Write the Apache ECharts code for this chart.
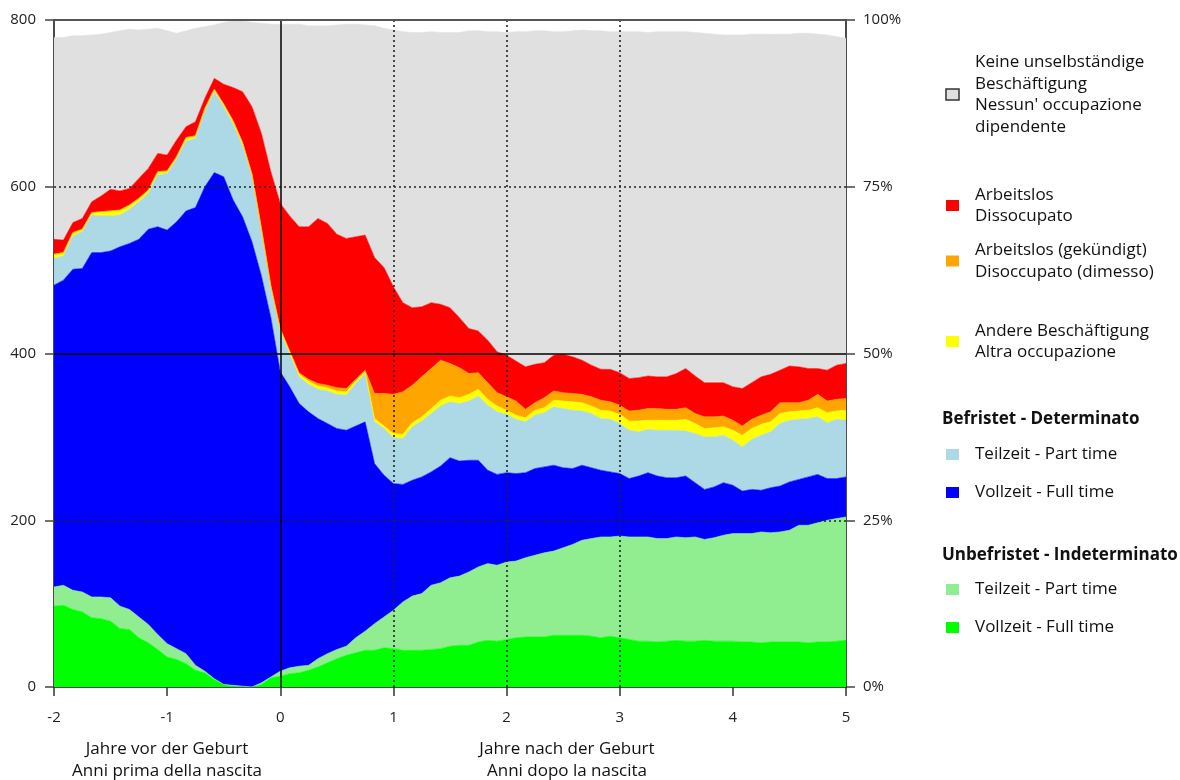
<!DOCTYPE html>
<html>
<head>
<meta charset="utf-8">
<script src="https://cdn.jsdelivr.net/npm/echarts@6/dist/echarts.min.js"></script>
<style>
  html, body { margin: 0; padding: 0; background: #ffffff; }
  #chart { width: 1180px; height: 780px; }
</style>
</head>
<body>
<div id="chart"></div>
<script>
// Months relative to the birth (-24 = two years before, 60 = five years after)
const months = [
  -24,-23,-22,-21,-20,-19,-18,-17,-16,-15,-14,-13,-12,-11,-10,-9,-8,-7,-6,-5,-4,-3,-2,-1,
  0,1,2,3,4,5,6,7,8,9,10,11,12,13,14,15,16,17,18,19,20,21,22,23,24,25,26,27,28,29,30,
  31,32,33,34,35,36,37,38,39,40,41,42,43,44,45,46,47,48,49,50,51,52,53,54,55,56,57,58,59,60
];

// Unbefristet - Vollzeit (permanent, full time)
const unbefristetVollzeit = [
  97,98,93,90,83,82,79,70,69,59,53,45,36,33,28,20,17,9,3,1,0.5,0,3,11,
  13,16,17,20,24,29,34,38,41,44,44,47,46,44,44,44,45,46,49,50,
  50,54,56,55,57,59,60,60,60,62,62,62,62,61,59,61,59,57,55,55,
  54,55,56,55,55,56,55,55,55,54,54,53,54,54,54,54,53,54,54,55,56
];
// Unbefristet - Teilzeit (permanent, part time)
const unbefristetTeilzeit = [
  23,24,23,24,25,26,28,27,24,25,22,18,16,13,12,6,2,1,0,1,0.5,0,2,1,
  6,7,8,6,10,11,11,11,18,23,32,37,46,58,65,68,77,79,82,83,
  88,90,92,91,93,92,95,98,101,101,105,109,114,117,121,119,122,123,125,125,
  124,123,124,124,125,121,124,127,129,130,130,133,131,132,134,140,141,143,146,147,148
];
// Befristet - Vollzeit (fixed-term, full time)
const befristetVollzeit = [
  362,366,385,388,413,413,416,431,439,453,474,489,496,512,531,549,581,607,609,582,563,534,488,431,
  359,337,315,304,288,276,265,259,254,251,192,170,152,141,139,140,136,140,144,138,
  134,128,112,109,107,105,102,104,103,103,96,91,90,85,80,78,75,70,73,77,
  75,73,71,74,65,60,61,63,58,51,53,50,54,55,58,55,58,58,50,48,48
];
// Befristet - Teilzeit (fixed-term, part time)
const befristetTeilzeit = [
  32,29,40,44,45,44,42,38,41,45,43,62,68,75,84,83,90,97,84,91,85,78,53,35,
  48,39,32,33,35,39,41,42,51,58,50,56,55,55,64,67,70,72,67,69,
  71,77,78,75,70,65,61,64,65,70,71,70,65,65,62,63,60,58,53,52,
  55,57,57,54,59,63,60,57,54,53,60,66,67,75,74,72,70,69,67,71,68
];
// Andere Beschäftigung (other employment)
const andereBeschaeftigung = [
  5,4,4,3,3,5,6,6,5,4,4,4,3,3,4,3,4,3,3,4,4,3,4,3,
  3,3,3,4,4,4,4,4,3,2,4,3,5,5,5,5,6,7,7,7,
  8,8,7,7,5,5,5,6,6,8,9,10,10,9,10,10,11,11,13,11,
  12,12,12,14,12,10,11,10,12,14,13,13,12,12,10,10,10,11,12,10,12
];
// Arbeitslos (gekündigt) (unemployed after dismissal)
const arbeitslosGekuendigt = [
  0,0,0,0,0,0,0,0,0,0,0,0,0,0,0,0,0,0,0,0,0,0,0,0,
  1,1,2,2,3,3,4,4,2,2,30,39,47,51,45,48,48,48,39,36,
  25,20,20,16,16,17,10,9,12,11,10,10,10,11,12,11,11,12,13,14,
  14,13,13,14,12,14,13,13,12,11,11,11,12,13,11,10,12,16,14,14,14
];
// Arbeitslos (unemployed)
const arbeitslos = [
  18,15,12,13,13,19,26,23,20,24,26,22,19,20,13,17,12,13,24,40,61,81,114,137,
  150,162,175,183,198,194,184,180,171,162,163,151,129,107,93,84,79,67,67,60,
  54,50,51,49,50,48,51,46,42,43,46,44,41,38,37,39,39,39,39,39,
  38,39,43,47,45,41,41,40,40,45,44,46,45,39,44,43,38,31,37,41,42
];
// Keine unselbständige Beschäftigung (no dependent employment)
const keineBeschaeftigung = [
  242,243,224,219,200,194,188,192,191,178,167,150,149,128,115,112,86,64,74,80,85,101,132,177,
  215,230,243,241,231,237,251,257,255,252,278,287,308,325,330,329,325,326,330,342,
  357,360,370,384,387,395,402,400,398,388,387,391,396,401,406,405,409,416,415,412,
  414,414,410,404,412,419,418,417,422,424,418,411,408,403,398,400,402,401,402,394,390
];

const leftTicks = [0, 200, 400, 600, 800];
const rightTicks = [0, 25, 50, 75, 100];

const FONT = '"Open Sans", "Noto Sans", sans-serif';

// Stack order from the bottom up
const layers = [
  { name: 'Unbefristet Vollzeit', data: unbefristetVollzeit, color: '#00ff00' },
  { name: 'Unbefristet Teilzeit', data: unbefristetTeilzeit, color: '#90ee90' },
  { name: 'Befristet Vollzeit', data: befristetVollzeit, color: '#0000ff' },
  { name: 'Befristet Teilzeit', data: befristetTeilzeit, color: '#add8e6' },
  { name: 'Andere Beschäftigung', data: andereBeschaeftigung, color: '#ffff00' },
  { name: 'Arbeitslos (gekündigt)', data: arbeitslosGekuendigt, color: '#ffa500' },
  { name: 'Arbeitslos', data: arbeitslos, color: '#ff0000' },
  { name: 'Keine unselbständige Beschäftigung', data: keineBeschaeftigung, color: '#e0e0e0' }
];

// Legend entries (right-hand side)
const legendEntries = [
  { text: 'Keine unselbständige\nBeschäftigung\nNessun\' occupazione\ndipendente', color: '#e0e0e0', border: true },
  { text: 'Arbeitslos\nDissocupato', color: '#ff0000' },
  { text: 'Arbeitslos (gekündigt)\nDisoccupato (dimesso)', color: '#ffa500' },
  { text: 'Andere Beschäftigung\nAltra occupazione', color: '#ffff00' },
  { text: 'Teilzeit - Part time', color: '#add8e6' },
  { text: 'Vollzeit - Full time', color: '#0000ff' },
  { text: 'Teilzeit - Part time', color: '#90ee90' },
  { text: 'Vollzeit - Full time', color: '#00ff00' }
];
const legendCenters = [94.5, 205.5, 261, 341.5, 454.5, 492.5, 589.5, 627.5];
const legendHeadings = ['Befristet - Determinato', 'Unbefristet - Indeterminato'];
const headingCenters = [419, 555];

const xTitles = [
  { text: 'Jahre vor der Geburt\nAnni prima della nascita', x: 167 },
  { text: 'Jahre nach der Geburt\nAnni dopo la nascita', x: 567 }
];

const categories = months.map(String);
const yearTick = (i) => months[i] % 12 === 0;

const graphics = [];
legendEntries.forEach((e, i) => {
  const cy = legendCenters[i];
  graphics.push({
    type: 'rect', silent: true,
    shape: { x: 946, y: cy - 5.5, width: 13, height: 11 },
    style: { fill: e.color, stroke: e.border ? '#333333' : null, lineWidth: e.border ? 1.5 : 0 }
  });
  graphics.push({
    type: 'text', silent: true,
    style: {
      x: 975, y: cy, text: e.text, fill: '#111111',
      font: '17px ' + FONT, verticalAlign: 'middle', lineHeight: 21.5
    }
  });
});
legendHeadings.forEach((h, i) => {
  graphics.push({
    type: 'text', silent: true,
    style: {
      x: 942, y: headingCenters[i], text: h, fill: '#111111',
      font: 'bold 17px ' + FONT, verticalAlign: 'middle'
    }
  });
});
xTitles.forEach((t) => {
  graphics.push({
    type: 'text', silent: true,
    style: {
      x: t.x, y: 760, text: t.text, fill: '#111111', align: 'center',
      font: '17px ' + FONT, verticalAlign: 'middle', lineHeight: 21.5
    }
  });
});

const dotted = { color: '#222222', width: 1.6, type: [2, 3] };
const solid = { color: '#000000', width: 1.5, type: 'solid' };

const series = layers.map((l, idx) => {
  const s = {
    name: l.name,
    type: 'line',
    stack: 'total',
    data: l.data,
    symbol: 'none',
    showSymbol: false,
    smooth: false,
    animation: false,
    lineStyle: { width: 0.6, color: l.color },
    areaStyle: { color: l.color, opacity: 1 },
    emphasis: { disabled: true }
  };
  if (idx === layers.length - 1) {
    s.markLine = {
      silent: true,
      animation: false,
      symbol: ['none', 'none'],
      label: { show: false },
      data: [
        { yAxis: 200, lineStyle: dotted },
        { yAxis: 600, lineStyle: dotted },
        { xAxis: '12', lineStyle: dotted },
        { xAxis: '24', lineStyle: dotted },
        { xAxis: '36', lineStyle: dotted },
        { yAxis: 400, lineStyle: solid },
        { xAxis: '0', lineStyle: solid },
        { yAxis: 800, lineStyle: { color: '#555555', width: 2, type: 'solid' } }
      ]
    };
  }
  return s;
});

const chart = echarts.init(document.getElementById('chart'), null, { renderer: 'canvas' });
chart.setOption({
  animation: false,
  backgroundColor: '#ffffff',
  textStyle: { fontFamily: FONT },
  grid: { left: 54, right: 334, top: 20, bottom: 93, containLabel: false },
  xAxis: {
    type: 'category',
    data: categories,
    boundaryGap: false,
    axisLine: { lineStyle: { color: '#111111', width: 1.5 } },
    axisTick: { interval: yearTick, length: 9, lineStyle: { color: '#333333', width: 1.5 } },
    axisLabel: {
      interval: yearTick,
      formatter: (v) => String(Number(v) / 12),
      margin: 23, fontSize: 15, color: '#222222', fontFamily: FONT
    },
    splitLine: { show: false }
  },
  yAxis: [
    {
      type: 'value', position: 'left',
      min: leftTicks[0], max: leftTicks[leftTicks.length - 1], interval: leftTicks[1] - leftTicks[0],
      axisLine: { show: true, lineStyle: { color: '#111111', width: 1.5 } },
      axisTick: { show: true, length: 9, lineStyle: { color: '#444444', width: 1.5 } },
      axisLabel: { margin: 18, fontSize: 15, color: '#222222', fontFamily: FONT },
      splitLine: { show: false }
    },
    {
      type: 'value', position: 'right',
      min: rightTicks[0], max: rightTicks[rightTicks.length - 1], interval: rightTicks[1] - rightTicks[0],
      axisLine: { show: true, lineStyle: { color: '#111111', width: 1.5 } },
      axisTick: { show: true, length: 9, lineStyle: { color: '#444444', width: 1.5 } },
      axisLabel: { margin: 17, fontSize: 15, color: '#222222', fontFamily: FONT, formatter: '{value}%' },
      splitLine: { show: false }
    }
  ],
  series: series,
  graphic: graphics
});
</script>
</body>
</html>
